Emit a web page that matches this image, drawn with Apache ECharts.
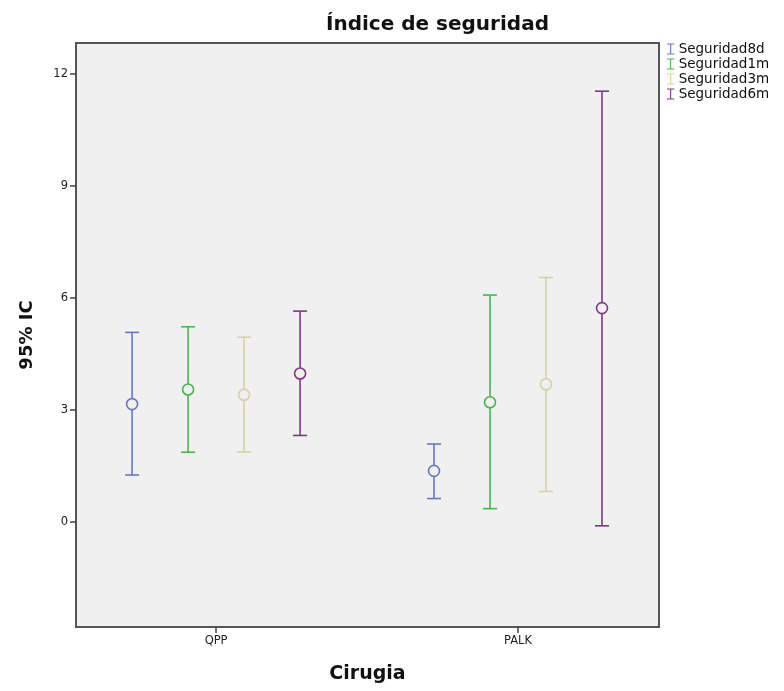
<!DOCTYPE html>
<html>
<head>
<meta charset="utf-8">
<script src="https://cdn.jsdelivr.net/npm/echarts@6/dist/echarts.min.js"></script>
<style>
  html, body { margin: 0; padding: 0; background: #fff; }
  #chart { width: 784px; height: 691px; }
</style>
</head>
<body>
<div id="chart"></div>
<script>
// categorias del eje x
var categories = ['QPP', 'PALK'];
var seriesNames = ['Seguridad8d', 'Seguridad1m', 'Seguridad3m', 'Seguridad6m'];
var yTicks = [0, 3, 6, 9, 12];

// media y limites del IC 95% por cirugia (QPP, PALK)
var mean8d = [3.16, 1.37];
var low8d = [1.26, 0.63];
var high8d = [5.08, 2.09];

var mean1m = [3.55, 3.21];
var low1m = [1.87, 0.36];
var high1m = [5.23, 6.08];

var mean3m = [3.41, 3.69];
var low3m = [1.88, 0.82];
var high3m = [4.95, 6.55];

var mean6m = [3.98, 5.73];
var low6m = [2.32, -0.10];
var high6m = [5.65, 11.54];

var colors = ['#6478c8', '#45b84a', '#d6d29c', '#84358a'];
var offsets = [-84, -28, 28, 84];
var icon = 'path://M0,0h8v1.2h-3.4v9.6h3.4v1.2h-8v-1.2h3.4v-9.6h-3.4z';

var means = [mean8d, mean1m, mean3m, mean6m];
var lows = [low8d, low1m, low3m, low6m];
var highs = [high8d, high1m, high3m, high6m];

function makeData(k) {
  return categories.map(function (c, i) {
    return [i, means[k][i], lows[k][i], highs[k][i]];
  });
}

function makeRender(k) {
  return function (params, api) {
    var x = api.value(0);
    var pMean = api.coord([x, api.value(1)]);
    var pLow = api.coord([x, api.value(2)]);
    var pHigh = api.coord([x, api.value(3)]);
    var cx = pMean[0] + offsets[k];
    var half = 7;
    var st = { stroke: colors[k], lineWidth: 1.6, fill: null };
    return {
      type: 'group',
      children: [
        { type: 'line', shape: { x1: cx, y1: pHigh[1], x2: cx, y2: pLow[1] }, style: st },
        { type: 'line', shape: { x1: cx - half, y1: pHigh[1], x2: cx + half, y2: pHigh[1] }, style: st },
        { type: 'line', shape: { x1: cx - half, y1: pLow[1], x2: cx + half, y2: pLow[1] }, style: st },
        { type: 'circle', shape: { cx: cx, cy: pMean[1], r: 5.5 }, style: { stroke: colors[k], lineWidth: 1.6, fill: '#f0f0f0' } }
      ]
    };
  };
}

var series = seriesNames.map(function (name, k) {
  return {
    name: name,
    type: 'custom',
    renderItem: makeRender(k),
    itemStyle: { color: colors[k] },
    encode: { x: 0, y: [1, 2, 3] },
    data: makeData(k)
  };
});

var chart = echarts.init(document.getElementById('chart'));
chart.setOption({
  animation: false,
  textStyle: { fontFamily: 'DejaVu Sans' },
  title: {
    text: 'Índice de seguridad',
    left: 321,
    top: 10,
    textStyle: { fontSize: 20, fontWeight: 'bold', color: '#111' }
  },
  legend: {
    orient: 'vertical',
    left: 667,
    top: 42,
    padding: 0,
    itemWidth: 8,
    itemHeight: 11,
    itemGap: 1,
    icon: icon,
    textStyle: { fontSize: 13.5, lineHeight: 12, color: '#111', padding: [0, 0, 0, -1] },
    data: seriesNames
  },
  grid: {
    left: 76,
    right: 125,
    top: 43,
    bottom: 64,
    show: true,
    backgroundColor: '#f0f0f0',
    borderColor: '#555',
    borderWidth: 2
  },
  xAxis: {
    type: 'value',
    min: -0.464,
    max: 1.467,
    name: 'Cirugia',
    nameLocation: 'middle',
    nameGap: 38,
    nameTextStyle: { fontSize: 19, fontWeight: 'bold', color: '#111' },
    axisLine: { show: true, onZero: false, lineStyle: { color: '#555', width: 2 } },
    splitLine: { show: false },
    axisTick: { show: true, length: 6, customValues: [0, 1], lineStyle: { color: '#444', width: 1.5 } },
    axisLabel: {
      customValues: [0, 1],
      fontSize: 11.5,
      color: '#222',
      margin: 8,
      formatter: function (v) { return categories[Math.round(v)]; }
    }
  },
  yAxis: {
    type: 'value',
    min: -2.81,
    max: 12.83,
    name: '95% IC',
    nameLocation: 'middle',
    nameGap: 40,
    nameRotate: 90,
    nameTextStyle: { fontSize: 18, fontWeight: 'bold', color: '#111' },
    axisLine: { show: true, onZero: false, lineStyle: { color: '#555', width: 2 } },
    splitLine: { show: false },
    axisTick: { show: true, length: 6, customValues: yTicks, lineStyle: { color: '#444', width: 1.5 } },
    axisLabel: { customValues: yTicks, fontSize: 11.5, color: '#222', margin: 8 }
  },
  series: series
});
</script>
</body>
</html>
